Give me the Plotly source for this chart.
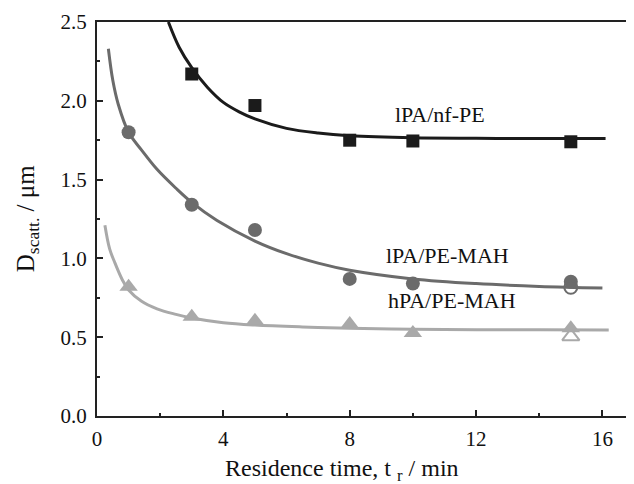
import plotly.graph_objects as go

# measured data points
x_nf = [3, 5, 8, 10, 15]
y_nf = [2.17, 1.97, 1.75, 1.745, 1.74]

x_lpa = [1, 3, 5, 8, 10, 15]
y_lpa = [1.80, 1.34, 1.18, 0.87, 0.84, 0.852]
x_lpa_open = [15]
y_lpa_open = [0.817]

x_hpa = [1, 3, 5, 8, 10, 15]
y_hpa = [0.82, 0.63, 0.605, 0.584, 0.527, 0.556]
x_hpa_open = [15]
y_hpa_open = [0.505]

# fitted curves
fx_nf = [2.26, 2.6, 3.0, 3.5, 4.0, 4.5, 5.0, 6.0, 7.0, 8.0, 10, 12, 14, 16.1]
fy_nf = [2.50, 2.34, 2.21, 2.085, 1.99, 1.93, 1.885, 1.825, 1.795, 1.778, 1.765, 1.762, 1.761, 1.76]

fx_lpa = [0.36, 0.5, 0.67, 1.0, 1.4, 1.9, 2.5, 3.0, 3.8, 5.0, 6.0, 7.0, 8.0, 10, 12, 14, 16]
fy_lpa = [2.33, 2.13, 1.98, 1.80, 1.69, 1.565, 1.445, 1.355, 1.24, 1.11, 1.03, 0.97, 0.925, 0.87, 0.84, 0.822, 0.812]

fx_hpa = [0.25, 0.4, 0.57, 0.8, 1.0, 1.4, 1.9, 2.5, 3.0, 4.0, 5.0, 6.5, 8, 10, 12, 14, 16.2]
fy_hpa = [1.21, 1.06, 0.97, 0.865, 0.80, 0.73, 0.68, 0.645, 0.622, 0.592, 0.577, 0.565, 0.557, 0.551, 0.548, 0.547, 0.546]

labels = ["lPA/nf-PE", "lPA/PE-MAH", "hPA/PE-MAH"]
label_x = [10.85, 11.1, 11.23]
label_y = [1.91, 1.02, 0.736]

c_nf = "#1b1b1b"
c_lpa = "#6b6b6b"
c_hpa = "#a9a9a9"
FONT = "'Liberation Serif', 'DejaVu Serif', serif"

fig = go.Figure()

for fx, fy, c in [(fx_nf, fy_nf, c_nf), (fx_lpa, fy_lpa, c_lpa), (fx_hpa, fy_hpa, c_hpa)]:
    fig.add_trace(go.Scatter(x=fx, y=fy, mode="lines",
                             line=dict(color=c, width=3, shape="spline", smoothing=1.0),
                             hoverinfo="skip"))

fig.add_trace(go.Scatter(x=x_nf, y=y_nf, mode="markers",
                         marker=dict(symbol="square", size=13, color=c_nf)))
fig.add_trace(go.Scatter(x=x_lpa, y=y_lpa, mode="markers",
                         marker=dict(symbol="circle", size=14, color=c_lpa)))
fig.add_trace(go.Scatter(x=x_lpa_open, y=y_lpa_open, mode="markers",
                         marker=dict(symbol="circle-open", size=13, color=c_lpa,
                                     line=dict(width=2))))
fig.add_trace(go.Scatter(x=x_hpa, y=y_hpa, mode="markers",
                         marker=dict(symbol="triangle-up", size=16, color=c_hpa)))
fig.add_trace(go.Scatter(x=x_hpa_open, y=y_hpa_open, mode="markers",
                         marker=dict(symbol="triangle-up-open", size=15, color=c_hpa,
                                     line=dict(width=2))))

for t, lx, ly in zip(labels, label_x, label_y):
    fig.add_annotation(x=lx, y=ly, text=t, showarrow=False,
                       xanchor="center", yanchor="middle",
                       font=dict(family=FONT, size=22, color="#111"))

fig.add_annotation(xref="paper", yref="paper", x=-0.13, y=0.5,
                   text="D<sub>scatt.</sub> / μm", textangle=-90, showarrow=False,
                   xanchor="center", yanchor="middle",
                   font=dict(family=FONT, size=25, color="#111"))
fig.add_annotation(xref="paper", yref="paper", x=0.457, y=-0.138,
                   text="Residence time, t <sub>r</sub> / min", showarrow=False,
                   xanchor="center", yanchor="middle",
                   font=dict(family=FONT, size=24, color="#111"))

axis_common = dict(showgrid=False, zeroline=False, showline=True, linecolor="#222",
                   linewidth=2, ticks="inside", ticklen=6, tickwidth=2, tickcolor="#222",
                   tickfont=dict(family=FONT, size=21, color="#111"))

fig.update_xaxes(range=[0, 17], tickvals=[0, 4, 8, 12, 16], mirror=True,
                 minor=dict(dtick=2, tick0=0, ticks="inside", ticklen=3, tickwidth=1.5,
                            tickcolor="#222"),
                 ticklabelstandoff=3, **axis_common)
fig.update_yaxes(range=[0, 2.5], tickvals=[0, 0.5, 1.0, 1.5, 2.0, 2.5],
                 ticktext=["0.0", "0.5", "1.0", "1.5", "2.0", "2.5"], mirror=False,
                 minor=dict(dtick=0.25, tick0=0, ticks="inside", ticklen=3, tickwidth=1.5,
                            tickcolor="#222"),
                 ticklabelstandoff=4, **axis_common)

fig.update_layout(width=626, height=476, showlegend=False,
                  font=dict(family=FONT),
                  plot_bgcolor="white", paper_bgcolor="white",
                  margin=dict(l=89, r=0, t=14, b=68))

fig.write_html("out.html")
